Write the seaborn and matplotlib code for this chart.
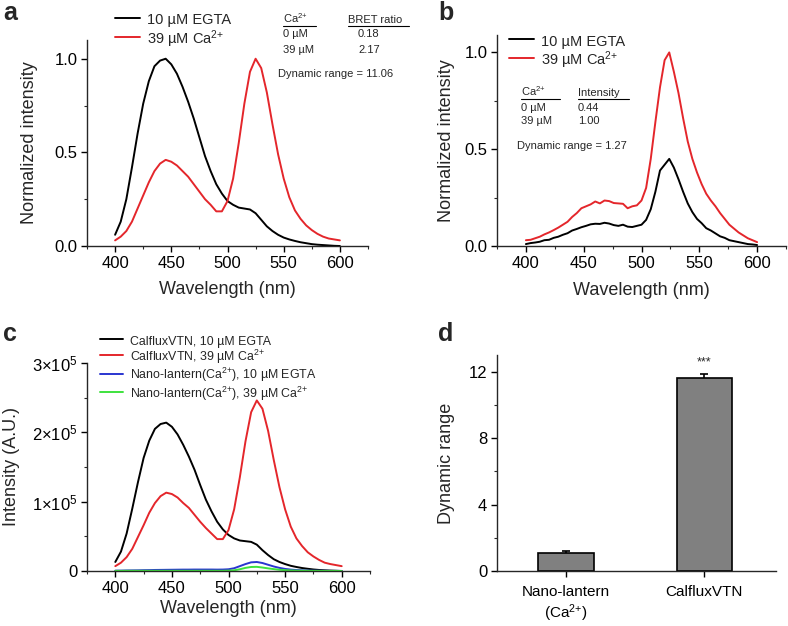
import numpy as np
import pandas as pd
import matplotlib
matplotlib.use("Agg")
import matplotlib.pyplot as plt
from matplotlib.lines import Line2D
from matplotlib.ticker import MultipleLocator
import seaborn as sns

# ---- data ----
wl_5nm = np.arange(400, 601, 5)   # panels a and c
wl_4nm = np.arange(400, 601, 4)   # panel b

# a: normalized spectra
a_egta = [0.06, 0.13, 0.25, 0.42, 0.60, 0.76, 0.88, 0.96, 0.99, 1.00,
          0.97, 0.92, 0.85, 0.77, 0.68, 0.58, 0.48, 0.40, 0.33, 0.28,
          0.24, 0.22, 0.205, 0.20, 0.195, 0.175, 0.14, 0.105, 0.08, 0.06,
          0.045, 0.035, 0.027, 0.02, 0.015, 0.01, 0.007, 0.005, 0.003, 0.001, 0.0]
a_ca = [0.03, 0.05, 0.08, 0.13, 0.20, 0.27, 0.34, 0.40, 0.44, 0.46,
        0.45, 0.43, 0.40, 0.37, 0.33, 0.29, 0.25, 0.22, 0.185, 0.185,
        0.24, 0.36, 0.55, 0.76, 0.93, 1.00, 0.95, 0.82, 0.65, 0.49,
        0.36, 0.26, 0.19, 0.145, 0.11, 0.085, 0.065, 0.05, 0.04, 0.035, 0.03]

# b: normalized spectra (Nano-lantern)
b_egta = [0.010, 0.015, 0.018, 0.022, 0.030, 0.032, 0.042, 0.048, 0.058, 0.066,
          0.080, 0.088, 0.097, 0.104, 0.112, 0.115, 0.114, 0.120, 0.116, 0.108,
          0.104, 0.110, 0.100, 0.098, 0.104, 0.110, 0.135, 0.190, 0.280, 0.390,
          0.420, 0.450, 0.405, 0.345, 0.280, 0.220, 0.175, 0.140, 0.118, 0.092,
          0.080, 0.065, 0.050, 0.042, 0.030, 0.025, 0.020, 0.015, 0.010, 0.008, 0.005]
b_ca = [0.030, 0.032, 0.040, 0.048, 0.060, 0.070, 0.082, 0.095, 0.110, 0.125,
        0.150, 0.170, 0.195, 0.205, 0.215, 0.230, 0.220, 0.235, 0.232, 0.222,
        0.220, 0.218, 0.195, 0.205, 0.210, 0.235, 0.300, 0.450, 0.640, 0.820,
        0.960, 1.000, 0.900, 0.790, 0.660, 0.540, 0.450, 0.380, 0.320, 0.270,
        0.235, 0.205, 0.170, 0.140, 0.110, 0.090, 0.070, 0.055, 0.040, 0.030, 0.020]

# c: raw intensity (x 1e5)
c_calflux_egta = [0.13, 0.28, 0.54, 0.90, 1.28, 1.63, 1.88, 2.05, 2.12, 2.14,
                  2.08, 1.97, 1.82, 1.65, 1.46, 1.24, 1.03, 0.86, 0.71, 0.60,
                  0.52, 0.47, 0.44, 0.43, 0.42, 0.38, 0.30, 0.23, 0.17, 0.13,
                  0.10, 0.075, 0.058, 0.043, 0.032, 0.022, 0.015, 0.01, 0.006, 0.003, 0.0]
c_calflux_ca = [0.07, 0.12, 0.20, 0.32, 0.49, 0.66, 0.84, 0.98, 1.08, 1.13,
                1.11, 1.06, 0.98, 0.91, 0.81, 0.71, 0.62, 0.54, 0.46, 0.46,
                0.59, 0.89, 1.35, 1.87, 2.29, 2.46, 2.34, 2.02, 1.60, 1.21,
                0.89, 0.64, 0.47, 0.36, 0.27, 0.21, 0.16, 0.12, 0.10, 0.085, 0.07]
c_nano_egta = [0.005, 0.006, 0.008, 0.009, 0.010, 0.012, 0.013, 0.015, 0.016, 0.017,
               0.018, 0.019, 0.020, 0.020, 0.021, 0.021, 0.021, 0.021, 0.020, 0.021,
               0.025, 0.040, 0.070, 0.100, 0.125, 0.130, 0.115, 0.090, 0.065, 0.045,
               0.030, 0.020, 0.014, 0.010, 0.007, 0.005, 0.004, 0.003, 0.002, 0.002, 0.001]
c_nano_ca = [0.002, 0.002, 0.003, 0.003, 0.003, 0.003, 0.003, 0.003, 0.003, 0.003,
             0.003, 0.003, 0.003, 0.003, 0.003, 0.003, 0.003, 0.003, 0.003, 0.003,
             0.005, 0.010, 0.025, 0.045, 0.058, 0.060, 0.050, 0.038, 0.027, 0.018,
             0.012, 0.008, 0.005, 0.004, 0.003, 0.002, 0.002, 0.001, 0.001, 0.001, 0.0]

# d: dynamic range
d_sensors = ["Nano-lantern\n(Ca$^{2{+}}$)", "CalfluxVTN"]
d_range = [1.1, 11.6]
d_err = [0.1, 0.25]

CA = "Ca$^{2{+}}$"
RED = "#e4262b"
BLUE = "#2a35d0"
GREEN = "#3ee23e"

sns.set_style("ticks")
plt.rcParams['font.family'] = ['Liberation Sans', 'DejaVu Sans']
plt.rcParams['mathtext.fontset'] = 'custom'
plt.rcParams['mathtext.rm'] = 'Liberation Sans'
plt.rcParams['mathtext.it'] = 'Liberation Sans:italic'
plt.rcParams['axes.linewidth'] = 1.0

W, H = 788, 626
fig = plt.figure(figsize=(W / 100, H / 100), dpi=100)


def axes_px(left, top, right, bottom):
    return fig.add_axes([left / W, 1 - bottom / H, (right - left) / W, (bottom - top) / H])


def ftext(x, y, s, **kw):
    fig.text(x / W, 1 - y / H, s, **kw)


def fline(x0, x1, y):
    fig.add_artist(Line2D([x0 / W, x1 / W], [1 - y / H, 1 - y / H], color='black', lw=0.8))


def style(ax):
    sns.despine(ax=ax)
    ax.tick_params(which='major', direction='out', length=4, width=1, labelsize=12, pad=3, colors='black')
    ax.tick_params(which='minor', direction='out', length=2.5, width=0.8)


def spectrum_axes(ax):
    ax.set_xlim(375, 625)
    ax.xaxis.set_major_locator(MultipleLocator(50))
    ax.xaxis.set_minor_locator(MultipleLocator(25))
    ax.set_xlabel("Wavelength (nm)", fontsize=13)
    style(ax)


def place_legend(ax, x, y, size, hlen, hpad, hheight):
    ax.legend(loc='upper left', bbox_to_anchor=(x / W, 1 - y / H), bbox_transform=fig.transFigure,
              frameon=False, fontsize=size, handlelength=hlen, handletextpad=hpad,
              handleheight=hheight, labelspacing=0, borderpad=0, borderaxespad=0)


# ---- a ----
ax_a = axes_px(87, 40, 368, 246)
sns.lineplot(x=wl_5nm, y=a_egta, color='black', lw=1.4, ax=ax_a, label="10 \u00b5M EGTA")
sns.lineplot(x=wl_5nm, y=a_ca, color=RED, lw=1.4, ax=ax_a, label="39 \u00b5M " + CA)
ax_a.set_ylim(0, 1.1)
ax_a.yaxis.set_major_locator(MultipleLocator(0.5))
ax_a.yaxis.set_minor_locator(MultipleLocator(0.25))
ax_a.yaxis.set_major_formatter(matplotlib.ticker.FormatStrFormatter('%.1f'))
ax_a.set_ylabel("Normalized intensity", fontsize=13)
spectrum_axes(ax_a)
place_legend(ax_a, 115, 11, 10.5, 1.7, 0.48, 1.45)
ax_a.yaxis.set_label_coords(-0.175, 0.5)
ax_a.xaxis.set_label_coords(0.5, -0.17)

ftext(283, 23, CA, fontsize=8, va='baseline')
ftext(348, 23, "BRET ratio", fontsize=8, va='baseline')
fline(283, 316, 26)
fline(348, 409, 26)
ftext(283, 37, "0 \u00b5M", fontsize=8, va='baseline')
ftext(283, 53, "39 \u00b5M", fontsize=8, va='baseline')
ftext(358, 37, "0.18", fontsize=8, va='baseline')
ftext(358, 53, "2.17", fontsize=8, va='baseline')
ftext(278, 77, "Dynamic range = 11.06", fontsize=8, va='baseline')

# ---- b ----
ax_b = axes_px(497, 35, 786, 246)
sns.lineplot(x=wl_4nm, y=b_egta, color='black', lw=1.4, ax=ax_b, label="10 \u00b5M EGTA")
sns.lineplot(x=wl_4nm, y=b_ca, color=RED, lw=1.4, ax=ax_b, label="39 \u00b5M " + CA)
ax_b.set_ylim(0, 1.09)
ax_b.yaxis.set_major_locator(MultipleLocator(0.5))
ax_b.yaxis.set_minor_locator(MultipleLocator(0.25))
ax_b.yaxis.set_major_formatter(matplotlib.ticker.FormatStrFormatter('%.1f'))
ax_b.set_ylabel("Normalized intensity", fontsize=13)
spectrum_axes(ax_b)
place_legend(ax_b, 509, 33, 10.5, 1.7, 0.48, 1.32)
ax_b.yaxis.set_label_coords(-0.145, 0.5)
ax_b.xaxis.set_label_coords(0.5, -0.17)

ftext(521, 96, CA, fontsize=8, va='baseline')
ftext(578, 96, "Intensity", fontsize=8, va='baseline')
fline(521, 560, 99)
fline(578, 629, 99)
ftext(521, 111, "0 \u00b5M", fontsize=8, va='baseline')
ftext(521, 124, "39 \u00b5M", fontsize=8, va='baseline')
ftext(578, 111, "0.44", fontsize=8, va='baseline')
ftext(578, 124, "1.00", fontsize=8, va='baseline')
ftext(517, 149, "Dynamic range = 1.27", fontsize=8, va='baseline')

# ---- c ----
ax_c = axes_px(87, 363, 370, 571)
sns.lineplot(x=wl_5nm, y=np.array(c_calflux_egta) * 1e5, color='black', lw=1.4, ax=ax_c,
             label="CalfluxVTN, 10 \u00b5M EGTA")
sns.lineplot(x=wl_5nm, y=np.array(c_calflux_ca) * 1e5, color=RED, lw=1.4, ax=ax_c,
             label="CalfluxVTN, 39 \u00b5M " + CA)
sns.lineplot(x=wl_5nm, y=np.array(c_nano_egta) * 1e5, color=BLUE, lw=1.4, ax=ax_c,
             label="Nano-lantern(" + CA + "), 10 \u00b5M EGTA")
sns.lineplot(x=wl_5nm, y=np.array(c_nano_ca) * 1e5, color=GREEN, lw=1.4, ax=ax_c,
             label="Nano-lantern(" + CA + "), 39 \u00b5M " + CA)
ax_c.set_ylim(0, 3e5)
ax_c.set_yticks([0, 1e5, 2e5, 3e5])
ax_c.set_yticklabels(["0", "1$\\times$10$^5$", "2$\\times$10$^5$", "3$\\times$10$^5$"])
ax_c.yaxis.set_minor_locator(MultipleLocator(0.5e5))
ax_c.set_ylabel("Intensity (A.U.)", fontsize=13)
spectrum_axes(ax_c)
place_legend(ax_c, 100, 333, 8.9, 1.85, 0.56, 1.48)
ax_c.yaxis.set_label_coords(-0.235, 0.5)
ax_c.xaxis.set_label_coords(0.5, -0.14)

# ---- d ----
ax_d = axes_px(497, 355, 776, 571)
d_df = pd.DataFrame({"sensor": d_sensors, "range": d_range})
ax_d.errorbar(x=[0, 1], y=d_range, yerr=d_err, fmt='none', ecolor='black', elinewidth=1.2,
              capsize=3, capthick=1.2, zorder=1)
sns.barplot(data=d_df, x="sensor", y="range", color="#808080", saturation=1, width=0.4,
            edgecolor='black', linewidth=1.2, ax=ax_d, zorder=2)
ax_d.set_xlim(-0.5, 1.52)
ax_d.set_ylim(0, 13)
ax_d.yaxis.set_major_locator(MultipleLocator(4))
ax_d.yaxis.set_minor_locator(MultipleLocator(2))
ax_d.set_xlabel("")
ax_d.set_ylabel("Dynamic range", fontsize=13)
style(ax_d)
ax_d.tick_params(axis='x', labelsize=11, pad=6)
ax_d.yaxis.set_label_coords(-0.15, 0.5)
ax_d.text(1, d_range[1] + d_err[1] + 0.35, "***", ha='center', va='bottom', fontsize=9)

# panel letters
for lx, ly, letter in [(3, 20, "a"), (438, 20, "b"), (3, 341, "c"), (438, 341, "d")]:
    ftext(lx, ly, letter, fontsize=18, fontweight='bold', va='baseline')

fig.savefig("out.png", dpi=100)
